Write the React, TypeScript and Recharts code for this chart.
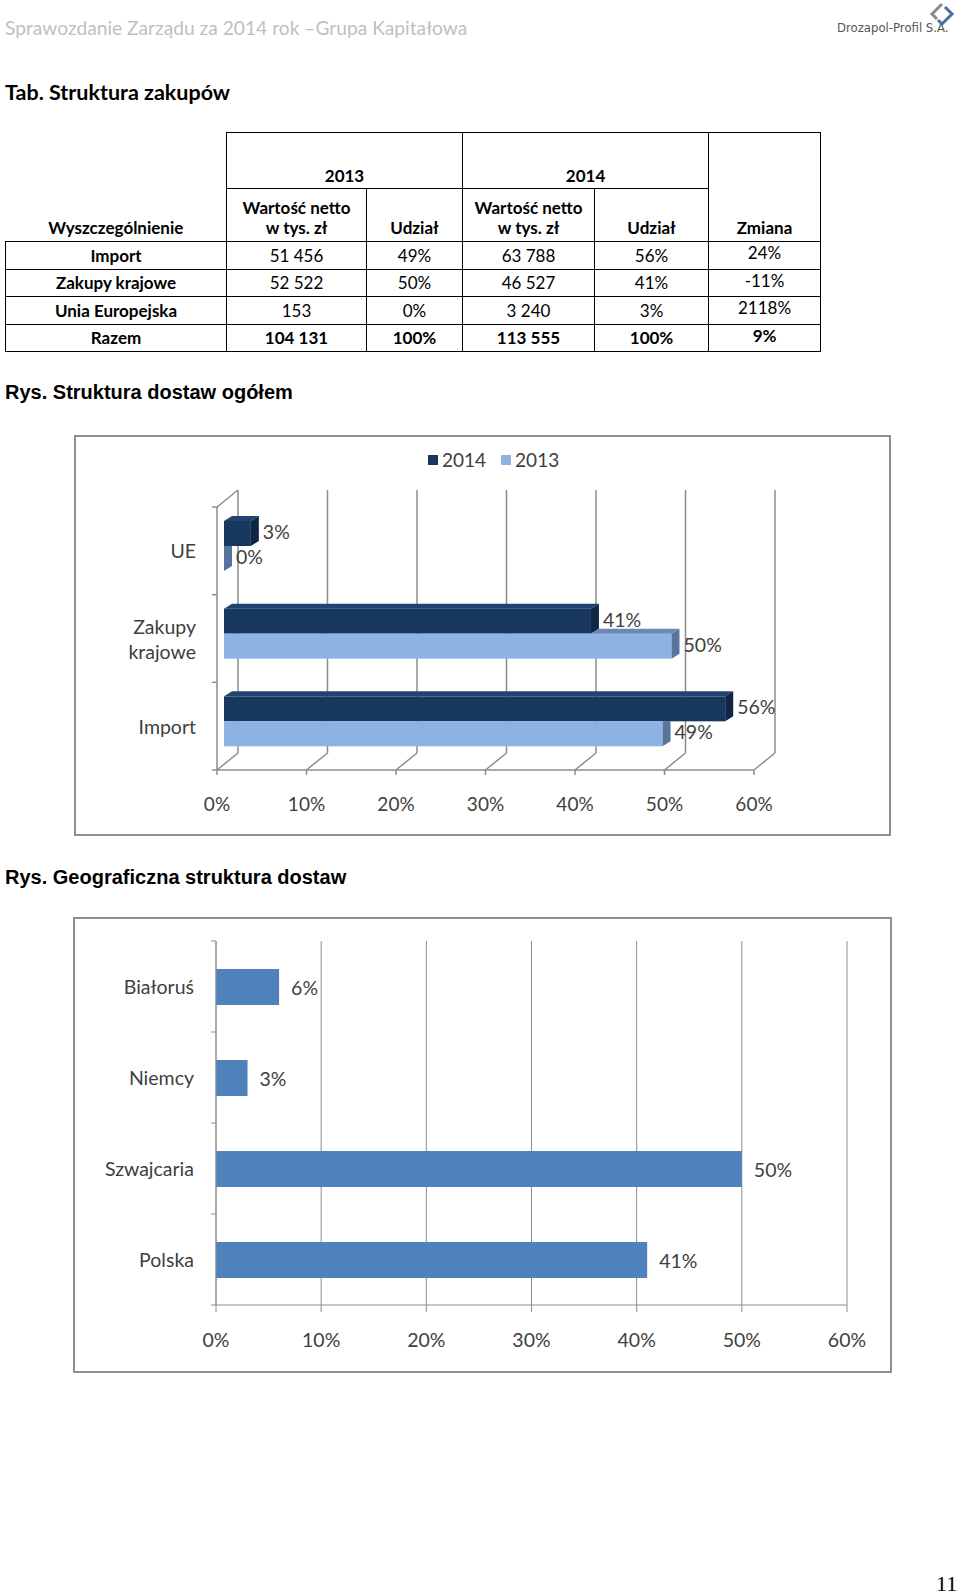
import React from "react";
import { BarChart, Bar, XAxis, YAxis, CartesianGrid, LabelList } from "recharts";

// tabela: Struktura zakupów
const tableRowLabels = ["Import", "Zakupy krajowe", "Unia Europejska", "Razem"];
const value2013 = ["51 456", "52 522", "153", "104 131"];
const udzial2013 = ["49%", "50%", "0%", "100%"];
const value2014 = ["63 788", "46 527", "3 240", "113 555"];
const udzial2014 = ["56%", "41%", "3%", "100%"];
const zmiana = ["24%", "-11%", "2118%", "9%"];

// wykres 1: Struktura dostaw ogółem
const supplyCategories = ["UE", "Zakupy krajowe", "Import"];
const supply2014 = [3, 41, 56];
const supply2013 = [0, 50, 49];
const percentTicks = [0, 10, 20, 30, 40, 50, 60];

// wykres 2: Geograficzna struktura dostaw
const countries = ["Białoruś", "Niemcy", "Szwajcaria", "Polska"];
const countryShares = [6, 3, 50, 41];

const supplyData = supplyCategories.map((name, i) => ({
  name,
  y2014: supply2014[i],
  y2013: supply2013[i],
}));
const countryData = countries.map((name, i) => ({ name, share: countryShares[i] }));

const CALIBRI = "Lato, 'Open Sans', sans-serif";
const ARIAL = "'Liberation Sans', Arial, sans-serif";
const TEXT = "#404040";
const GRID = "#8c8c8c";

const DARK = { front: "#17375E", top: "#1F4472", side: "#0F2644" };
const LIGHT = { front: "#8DB3E2", top: "#6A8AB3", side: "#56759C" };

const X_AXIS_H = 30;

// chart 1 geometry (pseudo 3D)
const C1_W = 817;
const C1_H = 401;
const C1_MARGIN = { top: 67, right: 130, bottom: 71 - X_AXIS_H, left: 20 };
const C1_YAXIS_W = 130;
const C1_PLOT_LEFT = C1_MARGIN.left + C1_YAXIS_W;
const C1_BAND = (C1_H - C1_MARGIN.top - C1_MARGIN.bottom - X_AXIS_H) / supplyCategories.length;
const FRONT = { dx: -7, dy: 5 };
const BACK = { dx: 14, dy: -12 };
const DEPTH = { dx: 8, dy: -5 };

// chart 2 geometry
const C2_W = 819;
const C2_H = 456;
const C2_MARGIN = { top: 24, right: 45, bottom: 68 - X_AXIS_H, left: 20 };
const C2_YAXIS_W = 123;
const C2_BAND = (C2_H - C2_MARGIN.top - C2_MARGIN.bottom - X_AXIS_H) / countries.length;

function DarkBar(props: any) {
  const { x, y, width, height } = props;
  const r = x + width;
  return (
    <g>
      <rect x={x} y={y} width={width} height={height} fill={DARK.front} />
      <polygon
        points={`${x},${y} ${x + DEPTH.dx},${y + DEPTH.dy} ${r + DEPTH.dx},${y + DEPTH.dy} ${r},${y}`}
        fill={DARK.top}
      />
      <polygon
        points={`${r},${y} ${r + DEPTH.dx},${y + DEPTH.dy} ${r + DEPTH.dx},${y + height + DEPTH.dy} ${r},${y + height}`}
        fill={DARK.side}
      />
    </g>
  );
}

function LightBar(props: any) {
  const { x, y, width, height, payload, value } = props;
  const perUnit = value > 0 ? width / value : 537 / 60;
  const darkEnd = x + payload.y2014 * perUnit;
  const r = x + width;
  const covered = darkEnd > r;
  return (
    <g>
      <rect x={x} y={y} width={width} height={height} fill={LIGHT.front} />
      {!covered && (
        <polygon
          points={`${darkEnd},${y} ${darkEnd + DEPTH.dx},${y + DEPTH.dy} ${r + DEPTH.dx},${y + DEPTH.dy} ${r},${y}`}
          fill={LIGHT.top}
        />
      )}
      <polygon
        points={
          covered
            ? `${r},${y} ${r + DEPTH.dx},${y} ${r + DEPTH.dx},${y + height + DEPTH.dy} ${r},${y + height}`
            : `${r},${y} ${r + DEPTH.dx},${y + DEPTH.dy} ${r + DEPTH.dx},${y + height + DEPTH.dy} ${r},${y + height}`
        }
        fill={LIGHT.side}
      />
    </g>
  );
}

function SupplyGridLine(props: any) {
  const { x1, y1, y2 } = props;
  const bx = x1 + BACK.dx;
  return (
    <g>
      <line x1={bx} x2={bx} y1={y1 + BACK.dy} y2={y2 + BACK.dy} stroke={GRID} strokeWidth={1.5} />
      <line x1={x1 + FRONT.dx} y1={y2 + FRONT.dy} x2={bx} y2={y2 + BACK.dy} stroke={GRID} strokeWidth={1.5} />
      {Math.abs(x1 - C1_PLOT_LEFT) < 1 && (
        <line x1={x1 + FRONT.dx} y1={y1 + FRONT.dy} x2={bx} y2={y1 + BACK.dy} stroke={GRID} strokeWidth={1.5} />
      )}
    </g>
  );
}

function SupplyXTick(props: any) {
  const { x, y, payload } = props;
  const fx = x + FRONT.dx;
  const fy = y + FRONT.dy;
  return (
    <g>
      <line x1={fx} x2={fx} y1={fy} y2={fy + 5} stroke={GRID} strokeWidth={1.5} />
      <text x={fx} y={fy + 33} textAnchor="middle" dominantBaseline="central" fill={TEXT} fontSize={19} fontFamily={CALIBRI}>
        {payload.value}%
      </text>
    </g>
  );
}

function SupplyYTick(props: any) {
  const { x, y, payload, index } = props;
  const half = C1_BAND / 2;
  const fx = x + FRONT.dx;
  const fy = y + FRONT.dy;
  const words = String(payload.value).split(" ");
  const last = index === supplyCategories.length - 1;
  return (
    <g>
      <line x1={fx - 5} x2={fx} y1={fy - half} y2={fy - half} stroke={GRID} strokeWidth={1.5} />
      {last && <line x1={fx - 5} x2={fx} y1={fy + half} y2={fy + half} stroke={GRID} strokeWidth={1.5} />}
      {words.map((w, i) => (
        <text
          key={w}
          x={fx - 21}
          y={fy + (i - (words.length - 1) / 2) * 25}
          textAnchor="end"
          dominantBaseline="central"
          fill={TEXT}
          fontSize={19.5}
          fontFamily={CALIBRI}
        >
          {w}
        </text>
      ))}
    </g>
  );
}

function SupplyValueLabel(props: any) {
  const { x, y, width, height, value } = props;
  return (
    <text
      x={x + width + DEPTH.dx + 4}
      y={y + height / 2 - 2}
      dominantBaseline="central"
      fill={TEXT}
      fontSize={19.5}
      fontFamily={CALIBRI}
    >
      {value}%
    </text>
  );
}

function CountryYTick(props: any) {
  const { x, y, payload, index } = props;
  const half = C2_BAND / 2;
  const last = index === countries.length - 1;
  return (
    <g>
      <line x1={x - 5} x2={x} y1={y - half} y2={y - half} stroke={GRID} />
      {last && <line x1={x - 5} x2={x} y1={y + half} y2={y + half} stroke={GRID} />}
      <text x={x - 22} y={y} textAnchor="end" dominantBaseline="central" fill={TEXT} fontSize={19.5} fontFamily={CALIBRI}>
        {payload.value}
      </text>
    </g>
  );
}

function CountryXTick(props: any) {
  const { x, y, payload } = props;
  return (
    <text x={x} y={y + 27} textAnchor="middle" dominantBaseline="central" fill={TEXT} fontSize={19.5} fontFamily={CALIBRI}>
      {payload.value}%
    </text>
  );
}

function CountryValueLabel(props: any) {
  const { x, y, width, height, value } = props;
  return (
    <text x={x + width + 12} y={y + height / 2} dominantBaseline="central" fill={TEXT} fontSize={19.5} fontFamily={CALIBRI}>
      {value}%
    </text>
  );
}

const cell: React.CSSProperties = {
  border: "1px solid #000",
  padding: 0,
  textAlign: "center",
  verticalAlign: "middle",
  lineHeight: "20px",
};

function PurchaseTable() {
  const colWidths = [221, 140, 96, 132, 114, 112];
  const bold: React.CSSProperties = { fontWeight: 700 };
  return (
    <table
      style={{
        position: "absolute",
        left: 5,
        top: 132,
        borderCollapse: "collapse",
        tableLayout: "fixed",
        width: 815,
        fontFamily: CALIBRI,
        fontSize: 17,
        color: "#000",
      }}
    >
      <colgroup>
        {colWidths.map((w, i) => (
          <col key={i} style={{ width: w }} />
        ))}
      </colgroup>
      <tbody>
        <tr style={{ height: 56 }}>
          <td
            rowSpan={2}
            style={{ ...cell, ...bold, borderTop: "none", borderLeft: "none", verticalAlign: "bottom", paddingBottom: 3 }}
          >
            Wyszczególnienie
          </td>
          <td colSpan={2} style={{ ...cell, ...bold, verticalAlign: "bottom", paddingBottom: 2 }}>
            2013
          </td>
          <td colSpan={2} style={{ ...cell, ...bold, verticalAlign: "bottom", paddingBottom: 2 }}>
            2014
          </td>
          <td rowSpan={2} style={{ ...cell, ...bold, verticalAlign: "bottom", paddingBottom: 3 }}>
            Zmiana
          </td>
        </tr>
        <tr style={{ height: 53 }}>
          <td style={{ ...cell, ...bold, verticalAlign: "bottom", paddingBottom: 3 }}>
            Wartość netto
            <br />w tys. zł
          </td>
          <td style={{ ...cell, ...bold, verticalAlign: "bottom", paddingBottom: 3 }}>Udział</td>
          <td style={{ ...cell, ...bold, verticalAlign: "bottom", paddingBottom: 3 }}>
            Wartość netto
            <br />w tys. zł
          </td>
          <td style={{ ...cell, ...bold, verticalAlign: "bottom", paddingBottom: 3 }}>Udział</td>
        </tr>
        {tableRowLabels.map((label, i) => {
          const isTotal = i === tableRowLabels.length - 1;
          const b = isTotal ? bold : {};
          return (
            <tr key={label} style={{ height: i % 2 === 0 ? 28 : 27 }}>
              <td style={{ ...cell, ...bold }}>{label}</td>
              <td style={{ ...cell, ...b }}>{value2013[i]}</td>
              <td style={{ ...cell, ...b }}>{udzial2013[i]}</td>
              <td style={{ ...cell, ...b }}>{value2014[i]}</td>
              <td style={{ ...cell, ...b }}>{udzial2014[i]}</td>
              <td style={{ ...cell, ...b, verticalAlign: "top", paddingTop: 1 }}>{zmiana[i]}</td>
            </tr>
          );
        })}
      </tbody>
    </table>
  );
}

function SupplyChart() {
  const legend = [
    { name: "2014", color: DARK.front },
    { name: "2013", color: LIGHT.front },
  ];
  return (
    <div style={{ position: "absolute", left: 74, top: 435, width: C1_W, height: C1_H }}>
      <div
        style={{
          position: "absolute",
          inset: 0,
          border: "2px solid #8f8f8f",
          boxSizing: "border-box",
        }}
      />
      <div
        style={{
          position: "absolute",
          top: 13,
          left: 354,
          display: "flex",
          alignItems: "center",
          fontFamily: CALIBRI,
          fontSize: 19,
          color: TEXT,
        }}
      >
        {legend.map((l) => (
          <div key={l.name} style={{ display: "flex", alignItems: "center", marginRight: 15 }}>
            <span style={{ width: 10, height: 10, background: l.color, marginRight: 4, display: "inline-block" }} />
            <span>{l.name}</span>
          </div>
        ))}
      </div>
      <BarChart
        layout="vertical"
        width={C1_W}
        height={C1_H}
        data={supplyData}
        margin={C1_MARGIN}
        barSize={25}
        barGap={0}
        style={{ position: "absolute", left: 0, top: 0 }}
      >
        <CartesianGrid horizontal={false} vertical={(p: any) => <SupplyGridLine key={p.key ?? p.index} {...p} />} />
        <XAxis
          type="number"
          domain={[0, 60]}
          ticks={percentTicks}
          interval={0}
          height={X_AXIS_H}
          tickSize={0}
          tickMargin={0}
          tickLine={false}
          axisLine={{ stroke: GRID, strokeWidth: 1.5, transform: `translate(${FRONT.dx},${FRONT.dy})` }}
          tick={<SupplyXTick />}
        />
        <YAxis
          type="category"
          dataKey="name"
          width={C1_YAXIS_W}
          interval={0}
          tickSize={0}
          tickMargin={0}
          tickLine={false}
          axisLine={{ stroke: GRID, strokeWidth: 1.5, transform: `translate(${FRONT.dx},${FRONT.dy})` }}
          tick={<SupplyYTick />}
        />
        <Bar dataKey="y2014" name="2014" fill={DARK.front} shape={<DarkBar />} isAnimationActive={false}>
          <LabelList dataKey="y2014" content={<SupplyValueLabel />} />
        </Bar>
        <Bar dataKey="y2013" name="2013" fill={LIGHT.front} shape={<LightBar />} isAnimationActive={false}>
          <LabelList dataKey="y2013" content={<SupplyValueLabel />} />
        </Bar>
      </BarChart>
    </div>
  );
}

function CountryChart() {
  return (
    <div style={{ position: "absolute", left: 73, top: 917, width: C2_W, height: C2_H }}>
      <div
        style={{
          position: "absolute",
          inset: 0,
          border: "2px solid #8f8f8f",
          boxSizing: "border-box",
        }}
      />
      <BarChart
        layout="vertical"
        width={C2_W}
        height={C2_H}
        data={countryData}
        margin={C2_MARGIN}
        barSize={36}
        style={{ position: "absolute", left: 0, top: 0 }}
      >
        <CartesianGrid horizontal={false} stroke={GRID} />
        <XAxis
          type="number"
          domain={[0, 60]}
          ticks={percentTicks}
          interval={0}
          height={X_AXIS_H}
          tickSize={7}
          tickMargin={0}
          axisLine={{ stroke: GRID }}
          tickLine={{ stroke: GRID }}
          tick={<CountryXTick />}
        />
        <YAxis
          type="category"
          dataKey="name"
          width={C2_YAXIS_W}
          interval={0}
          tickSize={0}
          tickMargin={0}
          tickLine={false}
          axisLine={{ stroke: GRID }}
          tick={<CountryYTick />}
        />
        <Bar dataKey="share" fill="#4F81BD" isAnimationActive={false}>
          <LabelList dataKey="share" content={<CountryValueLabel />} />
        </Bar>
      </BarChart>
    </div>
  );
}

export default function App() {
  const titleStyle: React.CSSProperties = {
    position: "absolute",
    left: 5,
    fontFamily: ARIAL,
    fontWeight: 700,
    fontSize: 20,
    lineHeight: "24px",
    whiteSpace: "nowrap",
  };
  return (
    <div
      style={{
        position: "absolute",
        left: 0,
        top: 0,
        width: 960,
        height: 1596,
        background: "#fff",
        overflow: "hidden",
      }}
    >
      <div
        style={{
          position: "absolute",
          left: 5,
          top: 15,
          fontFamily: CALIBRI,
          fontSize: 19.2,
          color: "#bfbfbf",
          lineHeight: "25px",
          whiteSpace: "nowrap",
        }}
      >
        Sprawozdanie Zarządu za 2014 rok –Grupa Kapitałowa
      </div>
      <div
        style={{
          position: "absolute",
          left: 837,
          top: 20,
          fontFamily: "'Liberation Sans Narrow', 'DejaVu Sans Condensed', sans-serif",
          fontSize: 13,
          color: "#555",
          lineHeight: "16px",
          whiteSpace: "nowrap",
        }}
      >
        Drozapol-Profil S.A.
      </div>
      <svg style={{ position: "absolute", left: 928, top: 2 }} width={28} height={26}>
        <path d="M14 2 L4 12 L9 17" fill="none" stroke="#8a8a8a" strokeWidth={3} />
        <path d="M17 5 L24 12 L14 22 L10 18" fill="none" stroke="#4a6fa5" strokeWidth={3} />
      </svg>
      <div
        style={{
          position: "absolute",
          left: 5,
          top: 79,
          fontFamily: CALIBRI,
          fontWeight: 700,
          fontSize: 21.5,
          lineHeight: "26px",
          whiteSpace: "nowrap",
        }}
      >
        Tab. Struktura zakupów
      </div>
      <PurchaseTable />
      <div style={{ ...titleStyle, top: 380 }}>Rys. Struktura dostaw ogółem</div>
      <SupplyChart />
      <div style={{ ...titleStyle, top: 865 }}>Rys. Geograficzna struktura dostaw</div>
      <CountryChart />
      <div
        style={{
          position: "absolute",
          left: 936,
          top: 1572,
          fontFamily: "'Liberation Serif', serif",
          fontSize: 22,
          lineHeight: "24px",
        }}
      >
        11
      </div>
    </div>
  );
}
